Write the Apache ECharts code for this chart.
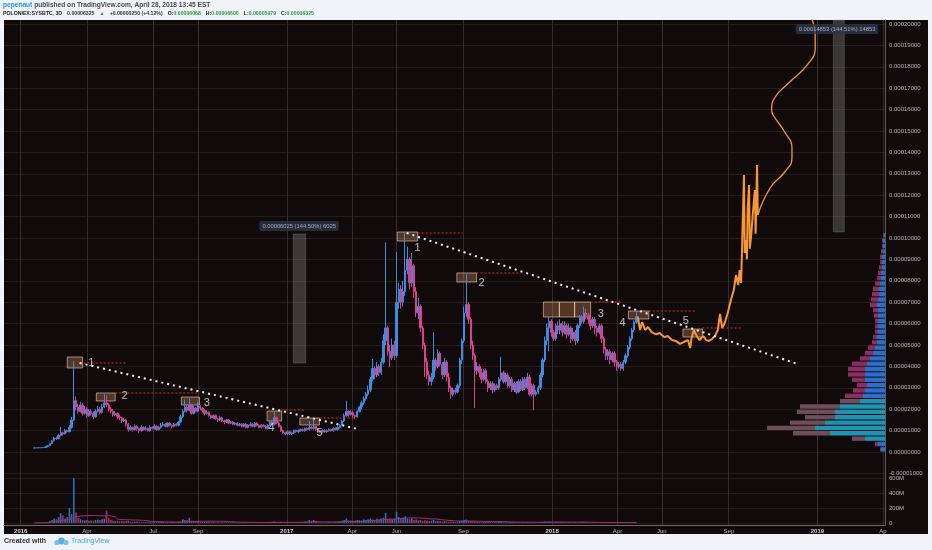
<!DOCTYPE html>
<html>
<head>
<meta charset="utf-8">
<script src="https://cdn.jsdelivr.net/npm/echarts@6/dist/echarts.min.js"></script>
<style>
  html, body { margin: 0; padding: 0; background: #f0f3f7; }
  #container { width: 932px; height: 550px; }
</style>
</head>
<body>
<div id="container"></div>
<script>
// POLONIEX:SYSBTC 3D candles, prices in satoshi (1e-8 BTC)
const candleStart = '2016-01-20';
const candleStepDays = 3;

const closes = [
  190,195,200,205,215,240,290,400,520,650,
  620,780,900,850,1000,950,1150,1500,2400,2100,
  1900,2200,1800,2000,1700,1900,1800,1650,1900,2000,
  1850,2100,2300,2200,2000,1900,1750,1800,1650,1600,
  1450,1500,1300,1050,1150,1050,1200,1100,1000,1150,
  1050,1100,1000,1150,1100,1200,1050,1150,1250,1300,
  1200,1350,1250,1200,1300,1250,1400,1650,1900,2100,
  1950,2200,1800,2050,1900,2150,2050,1950,1800,1850,
  1700,1600,1700,1550,1500,1600,1450,1400,1500,1350,
  1400,1300,1350,1250,1300,1200,1300,1150,1250,1300,
  1200,1350,1250,1150,1250,1200,1100,1250,1400,1300,
  1600,1350,1200,1000,900,850,950,850,900,1000,
  950,1000,1050,1000,1100,1050,1150,1100,1200,1050,
  1000,950,1000,950,1000,1050,1000,1100,1050,1150,
  1250,1450,1700,1900,1750,1850,1700,1650,1900,2100,
  2300,2500,2700,2900,3400,3900,3600,4000,3700,4200,
  5200,5800,4700,4400,5000,4500,7000,7600,7000,7500,
  8500,9000,7900,8700,7500,6500,6800,5800,5000,4200,
  3600,3300,3500,4300,4000,4600,4100,3600,4200,3500,
  3000,2700,2900,2800,3100,4300,5200,6500,6900,6200,
  5000,4500,3800,4000,3700,3400,3800,3300,3000,3200,
  2900,3100,3000,3400,3700,3300,3600,3100,3400,2900,
  3200,2800,3300,2900,3400,3000,3500,2700,3100,2700,
  2800,3000,3600,4300,5200,5800,6100,5600,5300,5900,
  5700,6000,5600,5900,5500,5800,5300,5600,5200,5900,
  6300,6100,6500,6400,6200,5900,6200,5800,5600,5900,
  5300,4800,4500,4700,4300,4600,4200,4000,4100,3900,
  4200,4500,4900,5300,5700,6068,6325
];
const highs = [
  200,205,210,215,230,260,320,430,560,700,
  720,850,1170,950,1080,1050,1250,1650,4250,2600,
  2250,2350,2300,2150,2100,2000,2000,1900,2000,2150,
  2100,2250,2700,2650,2300,2100,2000,1900,1850,1750,
  1650,1600,1550,1350,1250,1200,1300,1250,1150,1250,
  1200,1200,1150,1250,1200,1300,1250,1200,1350,1400,
  1350,1400,1400,1300,1350,1350,1450,1750,2000,2450,
  2200,2500,2250,2150,2100,2350,2200,2100,2000,1950,
  1900,1750,1750,1750,1600,1700,1650,1500,1550,1550,
  1450,1450,1400,1400,1350,1350,1350,1350,1300,1400,
  1350,1400,1400,1300,1300,1300,1250,1300,1450,1450,
  1900,1650,1400,1250,1050,950,1000,1000,950,1050,
  1050,1050,1100,1100,1150,1150,1450,1200,1500,1250,
  1100,1050,1050,1050,1050,1100,1100,1150,1150,1200,
  1300,1500,1800,2400,1950,1950,1900,1750,1950,2150,
  2400,2600,2800,3100,3500,4350,4000,4200,4100,4400,
  5500,9800,5900,5000,5300,5200,9350,7900,7800,8000,
  10230,9600,9100,9300,8800,7700,7200,6900,5900,5100,
  4400,3800,3700,5600,4400,4800,4700,4200,4400,4300,
  3700,3100,3000,3000,3200,4400,5300,6800,8300,7000,
  6300,5200,4600,4200,4100,3900,3900,3900,3400,3300,
  3300,3200,3200,3500,4450,3800,3700,3700,3500,3500,
  3300,3300,3400,3400,3500,3500,3700,3600,3200,3200,
  2900,3100,3700,4400,5400,6000,6300,6200,5700,6000,
  6100,6200,6100,6100,6000,6000,5900,5800,5700,6000,
  6400,6400,6800,6700,6500,6300,6300,6300,5900,6000,
  6000,5400,4900,4800,4800,4700,4700,4300,4200,4200,
  4300,4600,5000,5400,5800,6150,6600
];
const lows = [
  180,185,190,195,200,210,235,285,390,500,
  560,600,740,780,820,900,920,1100,1450,1950,
  1800,1850,1700,1750,1600,1650,1700,1550,1600,1850,
  1750,1800,2050,2100,1900,1800,1650,1700,1550,1500,
  1350,1400,1200,950,1000,950,1000,1000,900,950,
  1000,1000,950,950,1050,1050,1000,1000,1100,1200,
  1150,1150,1200,1100,1150,1200,1200,1350,1600,1850,
  1850,1900,1750,1750,1850,1850,1950,1850,1700,1750,
  1650,1550,1550,1500,1400,1450,1400,1300,1350,1300,
  1300,1250,1250,1200,1200,1150,1150,1100,1100,1200,
  1150,1150,1200,1100,1100,1150,1050,1050,1200,1250,
  1250,1300,1150,950,850,780,800,800,800,850,
  900,900,950,950,950,1000,1000,1050,1050,1000,
  950,900,900,900,900,950,950,950,1000,1000,
  1100,1200,1400,1650,1650,1700,1600,1550,1600,1850,
  2000,2200,2400,2600,2800,3300,3400,3500,3550,3600,
  4100,5000,4500,4000,4300,4300,4400,6700,6700,6800,
  7300,8300,7600,7700,7200,6300,6200,5600,4800,3500,
  3400,3100,3100,3400,3800,3900,4000,3400,3500,3300,
  2800,2500,2600,2700,2750,3000,4100,5100,6300,6000,
  4800,4300,2050,3600,3500,3200,3300,3200,2800,2900,
  2750,2800,2900,2900,3300,3200,3200,3000,3000,2800,
  2800,2700,2750,2850,2850,2900,2950,2600,2600,1950,
  2600,2700,2900,3500,4200,5000,4700,5400,5200,5200,
  5500,5500,5400,5500,5300,5400,5100,5200,5000,5100,
  5800,6000,6000,6200,6000,5700,5800,5500,5400,5500,
  5100,4600,4300,4300,4100,4200,4000,3800,3900,3800,
  3800,4100,4400,4800,5200,5600,5979
];
// volume per candle, millions
const volumes = [
  2,2,3,3,4,6,10,25,40,60,
  50,80,130,100,60,80,200,120,600,140,
  70,50,40,35,40,30,35,30,40,45,
  40,50,60,165,70,40,30,25,30,25,
  30,20,25,30,15,12,15,20,12,10,
  12,10,15,12,10,15,10,12,15,12,
  10,12,10,15,12,10,15,20,50,40,
  35,70,30,25,20,25,20,15,15,12,
  12,10,15,10,12,8,10,8,10,8,
  8,10,8,6,8,8,10,6,8,8,
  8,6,8,6,8,6,8,10,12,15,
  20,12,10,15,8,10,8,6,8,8,
  10,8,10,12,15,20,40,30,40,25,
  10,8,8,6,8,10,8,10,12,15,
  20,30,40,60,35,30,25,30,40,35,
  30,45,40,50,60,45,40,55,50,60,
  70,135,50,60,45,55,150,80,60,70,
  90,60,50,65,40,45,35,40,30,35,
  30,25,30,40,25,30,25,20,25,20,
  18,15,15,12,15,25,30,40,45,30,
  25,20,20,15,15,12,15,12,12,10,
  10,12,10,12,15,10,12,10,12,10,
  10,8,10,8,10,8,12,10,8,10,
  8,10,12,15,20,18,20,15,12,15,
  12,10,12,10,8,10,8,8,10,8,
  10,12,10,8,8,6,8,6,6,6,
  8,6,5,6,5,5,4,5,4,5,
  5,6,6,8,8,6,5
];

// projected path (orange), day offset from 2018-01-01
const projDays = [118,121,124,128,132,137,143,148,154,159,165,170,176,181,187,190,192,195,199,203,
  208,212,216,220,224,228,231,234,238,242,246,250,253,256,258,260,261,264,265,267,268,269,271,272,274,276,279,280,282,283];
const projPrices = [6325,5700,6075,5700,5840,5600,5500,5560,5370,5420,5230,5190,5050,5140,5230,4860,5330,5700,5420,5230,
  5420,5230,5190,5280,5420,5700,6450,5790,6075,6540,7100,7570,8270,7800,8500,7900,9065,12945,9300,9900,9000,11300,12480,9500,10140,11075,12240,10200,13410,11075];
const curveDays = [283,300,320,330,330,320,304,302,306,327,351,362,362,357];
const curvePrices = [11075,12337,13084,13739,14206,14954,15748,15982,16542,17290,18085,18879,19486,20281];

// visible range volume profile, rows of 250 sat
const vpRowSize = 250;
const vpUp =   [4,7,20,55,70,60,50,50,45,25,22,20,18,20,20,20,18,15,12,10,8,8,7,7,7,7,7,8,7,6,6,5,4,4,3,3,3,2,2,2,1];
const vpDown = [1,3,13,37,48,35,30,38,40,20,18,12,10,13,17,17,15,10,8,7,5,4,3,3,3,4,5,7,7,7,6,5,4,3,3,2,2,2,1,1,1];
const vpValueArea = [500, 2500];

// drawings
const boxes = [
  ['2016-03-05','2016-03-26',3925,4440],
  ['2016-04-14','2016-05-10',2383,2757],
  ['2016-08-09','2016-09-03',2196,2570],
  ['2016-12-05','2016-12-25',1449,1916],
  ['2017-01-19','2017-02-15',1262,1589],
  ['2017-06-02','2017-06-30',9860,10281],
  ['2017-08-23','2017-09-19',7944,8365],
  ['2017-12-20','2018-01-11',6309,7010],
  ['2018-01-11','2018-02-01',6309,7010],
  ['2018-02-01','2018-02-23',6309,7010],
  ['2018-04-16','2018-05-14',6215,6589],
  ['2018-06-30','2018-07-27',5374,5748]
];
const waveLabels = [
  ['2016-04-07',4159,'1'],['2016-05-23',2617,'2'],['2016-09-13',2290,'3'],
  ['2016-12-11',1121,'4'],['2017-02-15',888,'5'],
  ['2017-06-30',9530,'1'],['2017-09-26',7897,'2'],['2018-03-09',6470,'3'],
  ['2018-04-08',6028,'4'],['2018-07-04',6140,'5']
];
const redLines = [
  ['2016-03-22','2016-05-27',4159],['2016-05-10','2016-09-03',2757],
  ['2016-12-25','2017-01-25',1963],['2017-02-15','2017-04-04',1589],
  ['2017-06-30','2017-08-31',10234],['2017-09-19','2017-11-20',8365],
  ['2018-02-23','2018-04-07',7010],['2018-05-14','2018-07-16',6589],
  ['2018-07-27','2018-09-20',5795]
];
const trendLines = [
  ['2016-03-22',4159,'2017-04-08',1080],
  ['2017-06-15',10234,'2018-12-05',4112]
];
const measureBars = [['2017-01-10','2017-01-27',4159,10187],['2019-01-23','2019-02-07',10280,20187]];
const measureLabels = [
  ['2017-01-18',10561,'0.00006025 (144.50%) 6025'],
  ['2019-01-28',19767,'0.00014853 (144.51%) 14853']
];

const lastPrice = 6325;
const xTickDates = ['2016-01-01','2016-04-01','2016-07-01','2016-09-01','2017-01-01','2017-04-01','2017-06-01',
  '2017-09-01','2018-01-01','2018-04-01','2018-06-01','2018-09-01','2019-01-01','2019-04-01'];
const xTickLabels = ['2016','Apr','Jul','Sep','2017','Apr','Jun','Sep','2018','Apr','Jun','Sep','2019','Ap'];
const priceTicks = [-1000,0,1000,2000,3000,4000,5000,6000,7000,8000,9000,10000,
  11000,12000,13000,14000,15000,16000,17000,18000,19000,20000];
const volumeTicks = [0,200,400,600];

// ---------------------------------------------------------------
const DAY = 86400000;
const T = s => {
  const p = s.split('-').map(Number);
  return Date.UTC(p[0], p[1] - 1, p[2]);
};
const t0 = T(candleStart);
const t2018 = T('2018-01-01');
const xMin = T('2015-12-09');
const xMax = T('2019-04-04');
const yMin = -1121, yMax = 20187;
const FONT = 'Liberation Sans';

const candleTimes = closes.map((c, i) => t0 + i * candleStepDays * DAY);
const opens = closes.map((c, i) => (i === 0 ? c : closes[i - 1]));
const candleData = candleTimes.map((t, i) => [t, opens[i], closes[i], lows[i], highs[i]]);
const volumeData = candleTimes.map((t, i) => ({
  value: [t, volumes[i]],
  itemStyle: { color: closes[i] >= opens[i] ? 'rgba(46,124,200,0.9)' : 'rgba(186,50,115,0.9)' }
}));
const volMa = candleTimes.map((t, i) => {
  const from = Math.max(0, i - 19);
  let s = 0;
  for (let k = from; k <= i; k++) s += volumes[k];
  return [t, s / (i - from + 1)];
});
// red level lines as one broken polyline
const redLineData = [];
redLines.forEach(r => {
  redLineData.push([T(r[0]), r[2]], [T(r[1]), r[2]], [T(r[1]), '-']);
});
const xTicks = xTickDates.map(T);
const dom = document.getElementById('container');
const myChart = echarts.init(dom);

const hdr = (color, size) => ({ color: color, fontSize: size, fontWeight: 'bold', fontFamily: FONT, lineHeight: 8 });

const option = {
  backgroundColor: '#f0f3f7',
  animation: false,
  title: [
    {
      left: 3, top: 1, padding: 0,
      text: '{u|pepenaut}{t| published on TradingView.com, April 28, 2018 13:45 EST}',
      textStyle: { lineHeight: 8, rich: { u: hdr('#2196f3', 6.6), t: hdr('#4a4a4a', 6.6) } }
    },
    {
      left: 3, top: 10, padding: 0,
      text: '{b|POLONIEX:SYSBTC, 3D} {n|0.00006325} {g|▲} {n|+0.00000250 (+4.12%)} {b|O:}{g|0.00006068} {b|H:}{g|0.00006600} {b|L:}{g|0.00005979} {b|C:}{g|0.00006325}',
      textStyle: { lineHeight: 8, rich: { b: hdr('#222', 5.2), n: hdr('#333', 5.2), g: hdr('#2ea043', 5.2) } }
    }
  ],
  graphic: [
    { type: 'rect', z: -10, silent: true, shape: { x: 4, y: 20, width: 924, height: 514 }, style: { fill: '#110a0a' } },
    { type: 'text', left: 4, top: 538, style: { text: 'Created with', fill: '#333', font: 'bold 7px ' + FONT } },
    { type: 'circle', shape: { cx: 57, cy: 542.5, r: 2.6 }, style: { fill: '#7cc0ea' } },
    { type: 'circle', shape: { cx: 61.5, cy: 541, r: 3.4 }, style: { fill: '#5aaee3' } },
    { type: 'circle', shape: { cx: 66, cy: 542.5, r: 2.6 }, style: { fill: '#7cc0ea' } },
    { type: 'text', left: 71, top: 538, style: { text: 'TradingView', fill: '#4aa3de', font: '7px ' + FONT } }
  ],
  grid: [
    { left: 4, right: 47, top: 20, height: 456 },
    { left: 4, right: 47, top: 476, height: 49 },
    { left: 4, right: 47, top: 20, height: 456 }
  ],
  xAxis: [
    {
      type: 'value', gridIndex: 0, min: xMin, max: xMax,
      axisLine: { show: false }, axisLabel: { show: false },
      axisTick: { show: false, customValues: xTicks },
      splitLine: { show: true, lineStyle: { color: '#352c2c', width: 1 } }
    },
    {
      type: 'value', gridIndex: 1, min: xMin, max: xMax,
      axisLine: { show: true, onZero: false, lineStyle: { color: '#6b6b6b' } },
      axisTick: { show: false, customValues: xTicks },
      axisLabel: {
        customValues: xTicks, margin: 3, fontSize: 6, color: '#b7b9c0', fontFamily: FONT,
        formatter: v => {
          const i = xTicks.indexOf(v);
          const s = i >= 0 ? xTickLabels[i] : '';
          return /^\d{4}$/.test(s) ? '{y|' + s + '}' : s;
        },
        rich: { y: { fontWeight: 'bold', fontSize: 6, color: '#d0d2d8', fontFamily: FONT } }
      },
      splitLine: { show: true, lineStyle: { color: '#352c2c', width: 1 } }
    },
    { type: 'value', gridIndex: 2, min: 0, max: 881, inverse: true, show: false }
  ],
  yAxis: [
    {
      type: 'value', gridIndex: 0, position: 'right', min: yMin, max: yMax,
      axisLine: { show: true, onZero: false, lineStyle: { color: '#5e5e5e' } },
      axisTick: { show: false, customValues: priceTicks },
      axisLabel: {
        customValues: priceTicks, margin: 4, fontSize: 6, color: '#b7b9c0', fontFamily: FONT,
        formatter: v => (v / 1e8).toFixed(8)
      },
      splitLine: { show: true, lineStyle: { color: '#261c1c' } }
    },
    {
      type: 'value', gridIndex: 1, position: 'right', min: -27, max: 627,
      axisLine: { show: true, onZero: false, lineStyle: { color: '#5e5e5e' } },
      axisTick: { show: false, customValues: volumeTicks },
      axisLabel: {
        customValues: volumeTicks, margin: 4, fontSize: 6, color: '#b7b9c0', fontFamily: FONT,
        formatter: v => (v === 0 ? '0' : v + 'M')
      },
      splitLine: { show: true, lineStyle: { color: '#261c1c' } }
    },
    { type: 'value', gridIndex: 2, min: yMin, max: yMax, show: false }
  ],
  series: [
    {
      name: 'profile', type: 'custom', xAxisIndex: 2, yAxisIndex: 2, z: 1,
      data: vpUp.map((u, i) => [i * vpRowSize, u, vpDown[i]]),
      renderItem: (params, api) => {
        const p = api.value(0), up = api.value(1), dn = api.value(2);
        const a = api.coord([0, p + vpRowSize]);
        const b = api.coord([up, p]);
        const c = api.coord([up + dn, p]);
        const h = Math.max(1, b[1] - a[1] - 1);
        const inVa = p >= vpValueArea[0] && p < vpValueArea[1];
        return {
          type: 'group',
          children: [
            { type: 'rect', shape: { x: b[0], y: a[1] + 0.5, width: a[0] - b[0], height: h },
              style: { fill: inVa ? '#1f93b4' : '#2a6fcc' } },
            { type: 'rect', shape: { x: c[0], y: a[1] + 0.5, width: b[0] - c[0], height: h },
              style: { fill: inVa ? '#6f4d5b' : '#8a2e62' } }
          ]
        };
      }
    },
    {
      name: 'SYSBTC', type: 'candlestick', xAxisIndex: 0, yAxisIndex: 0, z: 3,
      barWidth: 1.8,
      encode: { x: 0, y: [1, 2, 3, 4] },
      data: candleData,
      itemStyle: { color: '#3d8ce0', color0: '#dd3f8b', borderColor: '#3d8ce0', borderColor0: '#dd3f8b', borderWidth: 1 },
      markLine: {
        silent: true, symbol: ['none', 'none'], animation: false,
        lineStyle: { opacity: 0 },
        label: {
          show: true, position: 'end', distance: 3, formatter: (lastPrice / 1e8).toFixed(8),
          backgroundColor: '#ffffff', color: '#111', fontSize: 6, fontFamily: FONT, padding: [1, 2]
        },
        data: [{ yAxis: lastPrice }]
      }
    },
    {
      name: 'projection', type: 'line', xAxisIndex: 0, yAxisIndex: 0, z: 4,
      showSymbol: false, symbol: 'none',
      data: projDays.map((d, i) => [t2018 + d * DAY, projPrices[i]]),
      lineStyle: { color: '#f7973a', width: 2 }
    },
    {
      name: 'curve', type: 'line', xAxisIndex: 0, yAxisIndex: 0, z: 4,
      showSymbol: false, symbol: 'none', smooth: 0.5,
      data: curveDays.map((d, i) => [t2018 + d * DAY, curvePrices[i]]),
      lineStyle: { color: '#f7973a', width: 1.3 }
    },
    {
      name: 'levels', type: 'line', xAxisIndex: 0, yAxisIndex: 0, z: 5,
      symbol: 'none', showSymbol: false, connectNulls: false,
      data: redLineData,
      lineStyle: { color: '#e8262f', width: 1, type: [2, 2] }
    },
    {
      name: 'boxes', type: 'line', xAxisIndex: 0, yAxisIndex: 0, z: 5,
      data: [], symbol: 'none',
      markArea: {
        silent: true,
        itemStyle: { color: 'rgba(255,170,110,0.28)', borderColor: 'rgba(255,225,200,0.55)', borderWidth: 1 },
        data: boxes.map(b => [{ coord: [T(b[0]), b[2]] }, { coord: [T(b[1]), b[3]] }])
      }
    },
    {
      name: 'measure', type: 'line', xAxisIndex: 0, yAxisIndex: 0, z: 2,
      data: [], symbol: 'none',
      markArea: {
        silent: true,
        itemStyle: { color: 'rgba(120,120,120,0.42)', borderColor: 'rgba(150,150,150,0.3)', borderWidth: 1 },
        data: measureBars.map(m => [{ coord: [T(m[0]), m[2]] }, { coord: [T(m[1]), m[3]] }])
      }
    },
    ...trendLines.map(tl => ({
      type: 'line', xAxisIndex: 0, yAxisIndex: 0, z: 6, symbol: 'none',
      data: [[T(tl[0]), tl[1]], [T(tl[2]), tl[3]]],
      lineStyle: { color: '#f2f2f2', width: 2, type: [2, 4] }
    })),
    {
      name: 'waves', type: 'scatter', xAxisIndex: 0, yAxisIndex: 0, z: 7,
      symbolSize: 1, itemStyle: { color: 'transparent' },
      data: waveLabels.map(w => [T(w[0]), w[1], w[2]]),
      label: {
        show: true, position: 'inside', formatter: p => p.value[2],
        color: '#e6e6e6', fontSize: 11, fontFamily: FONT
      }
    },
    {
      name: 'measureLabels', type: 'scatter', xAxisIndex: 0, yAxisIndex: 0, z: 7,
      symbolSize: 1, itemStyle: { color: 'transparent' },
      data: measureLabels.map(w => [T(w[0]), w[1], w[2]]),
      label: {
        show: true, position: 'inside', formatter: p => p.value[2],
        color: '#c3cbd8', fontSize: 5.8, fontFamily: FONT,
        backgroundColor: '#2b3548', padding: [2, 3], borderRadius: 2
      }
    },
    {
      name: 'Volume', type: 'bar', xAxisIndex: 1, yAxisIndex: 1,
      barWidth: 1.6, data: volumeData
    },
    {
      name: 'Volume MA', type: 'line', xAxisIndex: 1, yAxisIndex: 1, z: 3,
      symbol: 'none', data: volMa,
      lineStyle: { color: '#a3306c', width: 1 }
    }
  ]
};

if (option && typeof option === 'object') {
  myChart.setOption(option, true);
}
</script>
</body>
</html>
